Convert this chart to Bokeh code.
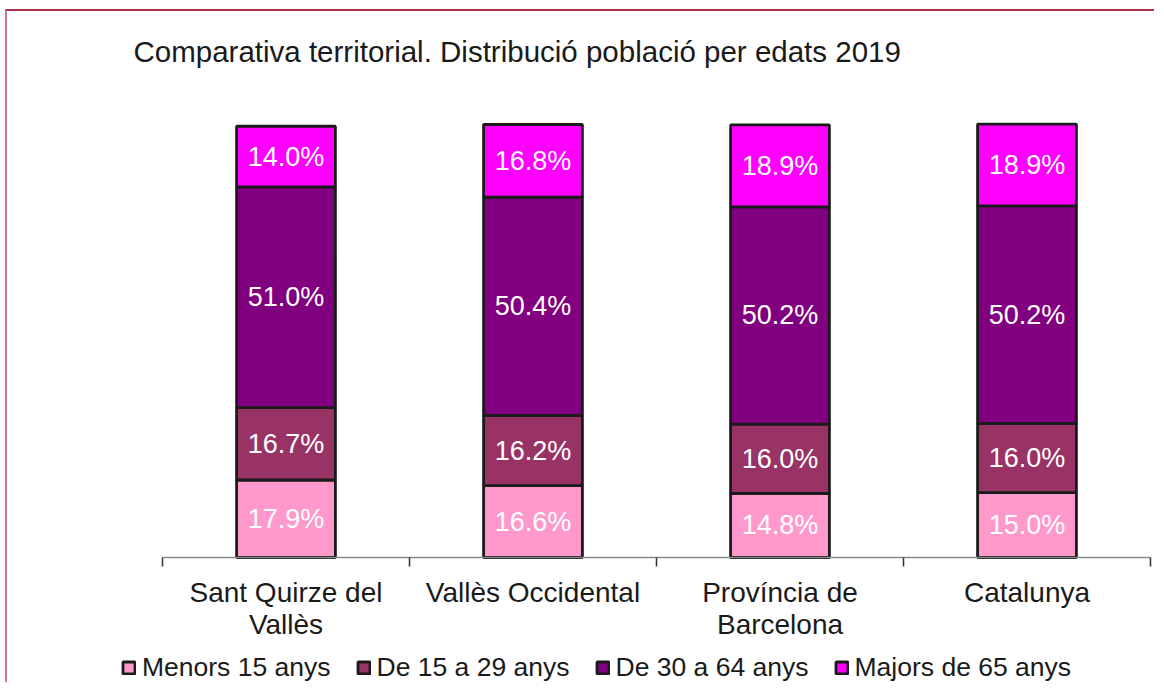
from bokeh.plotting import figure
from bokeh.models import Range1d, FixedTicker, Legend, LegendItem, ColumnDataSource, Label
from bokeh.core.properties import value
from bokeh.embed import file_html
from bokeh.resources import INLINE

title = "Comparativa territorial. Distribució població per edats 2019"
categories = ["Sant Quirze del\nVallès", "Vallès Occidental", "Província de\nBarcelona", "Catalunya"]
series_names = ["Menors 15 anys", "De 15 a 29 anys", "De 30 a 64 anys", "Majors de 65 anys"]
menors15 = [17.9, 16.6, 14.8, 15.0]
de15a29 = [16.7, 16.2, 16.0, 16.0]
de30a64 = [51.0, 50.4, 50.2, 50.2]
majors65 = [14.0, 16.8, 18.9, 18.9]
colors = ["#FF99CC", "#993366", "#800080", "#FF00FF"]

series = [menors15, de15a29, de30a64, majors65]
FONT = "Liberation Sans"

# the frame covers the whole canvas; the axis sits at y=0 inside it
p = figure(width=1149, height=673, output_backend="svg", toolbar_location=None,
           x_range=Range1d(-0.6275, 4.0243), y_range=Range1d(-29.33, 126.1),
           y_axis_location=None, min_border_left=0, min_border_right=0,
           min_border_top=0, min_border_bottom=0,
           styles={"border-top": "2px solid #a8344f", "border-left": "2px solid #d47594",
                   "margin-left": "5px", "margin-top": "9px"})
p.outline_line_color = None
p.grid.visible = False

p.add_layout(Label(x=-0.1174, y=116.9, text=title, text_font=FONT,
                   text_font_size="29.5px", text_color="#1a1a1a",
                   text_align="left", text_baseline="alphabetic"))

xs = [i + 0.5 for i in range(len(categories))]
bottom = [0.0] * len(categories)
items = []
for name, vals, col in zip(series_names, series, colors):
    top = [b + v for b, v in zip(bottom, vals)]
    src = ColumnDataSource(dict(x=xs, bottom=bottom, top=top,
                                ymid=[(b + t) / 2 for b, t in zip(bottom, top)],
                                lab=["%.1f%%" % v for v in vals]))
    r = p.vbar(x="x", bottom="bottom", top="top", width=0.4, source=src,
               fill_color=col, line_color="#1a1a1a", line_width=2.8)
    p.text(x="x", y="ymid", text="lab", source=src, text_align="center",
           text_baseline="middle", text_color="white", text_font=value(FONT),
           text_font_size="27px")
    items.append(LegendItem(label=name, renderers=[r]))
    bottom = top

ax = p.xaxis[0]
ax.fixed_location = 0
ax.bounds = (0, 4)
ax.ticker = FixedTicker(ticks=xs, minor_ticks=[0, 1, 2, 3, 4])
ax.major_label_overrides = {x: c for x, c in zip(xs, categories)}
ax.major_tick_out = 0
ax.major_tick_in = 0
ax.minor_tick_out = 9
ax.minor_tick_in = 0
ax.minor_tick_line_color = "#333333"
ax.minor_tick_line_width = 1.5
ax.axis_line_color = "#8a8a8a"
ax.axis_line_width = 1.5
ax.major_label_text_font = FONT
ax.major_label_text_font_size = "28px"
ax.major_label_text_color = "#1a1a1a"
ax.major_label_text_line_height = 1.05
ax.major_label_standoff = 10

legend = Legend(items=items, orientation="horizontal", location=(114, 1),
                glyph_width=15, glyph_height=15, label_standoff=6, spacing=25,
                padding=0, margin=0, border_line_color=None, background_fill_alpha=0,
                label_text_font=FONT, label_text_font_size="26.5px",
                label_text_color="#1a1a1a")
p.add_layout(legend, "center")

open("out.html", "w").write(file_html(p, INLINE))
